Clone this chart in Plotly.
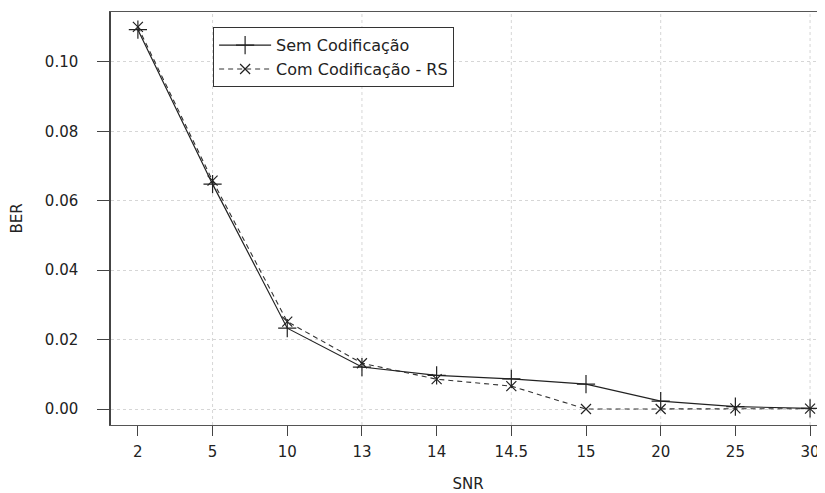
import plotly.graph_objects as go

snr_labels = ["2", "5", "10", "13", "14", "14.5", "15", "20", "25", "30"]
ber_sem = [0.1093, 0.0648, 0.0233, 0.0121, 0.0097, 0.0087, 0.0072, 0.0023, 0.0007, 0.0002]
ber_com = [0.1101, 0.0658, 0.0252, 0.0132, 0.0086, 0.0066, 0.0000, 0.0000, 0.0002, 0.0001]
y_ticks = [0.00, 0.02, 0.04, 0.06, 0.08, 0.10]

x_idx = list(range(1, len(snr_labels) + 1))
grid_idx = x_idx[1::2]

FONT = "DejaVu Sans"
INK = "#222222"

fig = go.Figure()
fig.add_trace(go.Scatter(
    x=x_idx, y=ber_sem, mode="lines+markers", name="Sem Codificação",
    line=dict(color=INK, width=1.2),
    marker=dict(symbol="cross-thin", size=13, line=dict(color=INK, width=1.2)),
))
fig.add_trace(go.Scatter(
    x=x_idx, y=ber_com, mode="lines+markers", name="Com Codificação - RS",
    line=dict(color="#333333", width=1.1, dash="5px,4px"),
    marker=dict(symbol="x-thin", size=10, line=dict(color=INK, width=1.2)),
))

for gx in grid_idx:
    fig.add_shape(type="line", xref="x", yref="paper", x0=gx, x1=gx, y0=0, y1=1,
                  line=dict(color="#d6d6d6", width=1, dash="dot"), layer="below")

fig.update_layout(
    width=817, height=485,
    margin=dict(l=103, r=0, t=4, b=68, autoexpand=False),
    paper_bgcolor="white", plot_bgcolor="white",
    font=dict(family=FONT, size=15, color="#222222"),
    showlegend=True,
    legend=dict(
        x=0.143, y=0.963, xanchor="left", yanchor="top",
        bgcolor="white", bordercolor="#333333", borderwidth=1,
        font=dict(family=FONT, size=16, color="#222222"),
        itemwidth=52, tracegroupgap=0,
    ),
    xaxis=dict(
        range=[0.64, 10.2], tickmode="array", tickvals=x_idx, ticktext=snr_labels,
        showgrid=False, zeroline=False, automargin=False,
        showline=True, linecolor="#555555", linewidth=1, mirror=True,
        ticks="outside", ticklen=10, tickcolor="#444444", ticklabelstandoff=3,
        title=dict(text="SNR", standoff=26, font=dict(size=15)),
    ),
    yaxis=dict(
        range=[-0.0046, 0.1144], tickmode="array", tickvals=y_ticks, tickformat=".2f",
        showgrid=True, gridcolor="#d6d6d6", griddash="dot", gridwidth=1, zeroline=False,
        automargin=False,
        showline=True, linecolor="#444444", linewidth=1.5,
        ticks="outside", ticklen=12, tickcolor="#444444", ticklabelstandoff=16,
        title=dict(text="BER", standoff=20, font=dict(size=15)),
    ),
)

fig.write_html("out.html")
